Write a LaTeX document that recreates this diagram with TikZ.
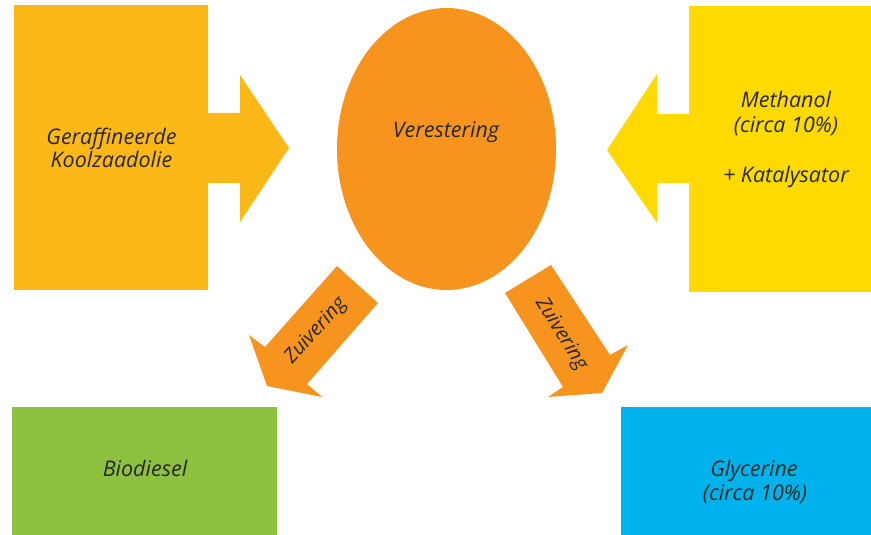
\documentclass[tikz,border=0pt]{standalone}
\usepackage{fontspec}
\setmainfont{Open Sans}
\usetikzlibrary{shapes.geometric}
\definecolor{oilc}{HTML}{FBB817}
\definecolor{methc}{HTML}{FEDA00}
\definecolor{estc}{HTML}{F7941E}
\definecolor{bioc}{HTML}{8DC13F}
\definecolor{glyc}{HTML}{00B2EB}
\definecolor{txtc}{HTML}{262626}
\tikzset{
  box/.style={draw=none, inner sep=0pt, outer sep=0pt},
  txt/.style={inner sep=0pt, outer sep=0pt, text=txtc, font=\fontsize{21.5}{24}\selectfont\itshape, anchor=base},
  ztxt/.style={inner sep=0pt, outer sep=0pt, text=txtc, font=\fontsize{20}{22}\selectfont\itshape, anchor=center},
}
\begin{document}
\begin{tikzpicture}[x=1pt, y=-1pt]
\useasboundingbox (0,0) rectangle (871,535);
% boxes
\node[box, fill=oilc, minimum width=194pt, minimum height=285pt] (oil) at (111,147.5) {};
\node[box, fill=methc, minimum width=182pt, minimum height=286pt] (meth) at (780,149) {};
\node[box, fill=bioc, minimum width=265pt, minimum height=128pt] (bio) at (144.5,471) {};
\node[box, fill=glyc, minimum width=250pt, minimum height=128pt] (gly) at (746,471) {};
\node[ellipse, box, fill=estc, minimum width=219pt, minimum height=282pt] (ester) at (446.5,149) {};
% block arrows
\fill[oilc] (200,113) -- (240,113) -- (240,75) -- (289,148) -- (240,222) -- (240,183) -- (200,183) -- cycle;
\fill[methc] (700,114) -- (657,114) -- (657,74) -- (607,150) -- (657,223) -- (657,183) -- (700,183) -- cycle;
\fill[estc] (337,266) -- (378,303) -- (307,384) -- (322,397) -- (267,386) -- (249,335) -- (265,347) -- cycle;
\fill[estc] (505,293) -- (551,265) -- (610,355) -- (628,345) -- (602,393) -- (548,397) -- (563,387) -- cycle;
% texts
\node[txt] (oil1) at (111.5,144) {Geraffineerde};
\node[txt] (oil2) at (111.5,167) {Koolzaadolie};
\node[txt] (est) at (446,137) {Verestering};
\node[txt] (m1) at (786,107) {Methanol};
\node[txt] (m2) at (786,132) {(circa 10\%)};
\node[txt] (m3) at (786,182) {+ Katalysator};
\node[txt] (b1) at (145,476) {Biodiesel};
\node[txt] (g1) at (754,476) {Glycerine};
\node[txt] (g2) at (755,500) {(circa 10\%)};
\node[ztxt, rotate=48] (z1) at (316,331) {Zuivering};
\node[ztxt, rotate=-58] (z2) at (561,334) {Zuivering};
\end{tikzpicture}
\end{document}
